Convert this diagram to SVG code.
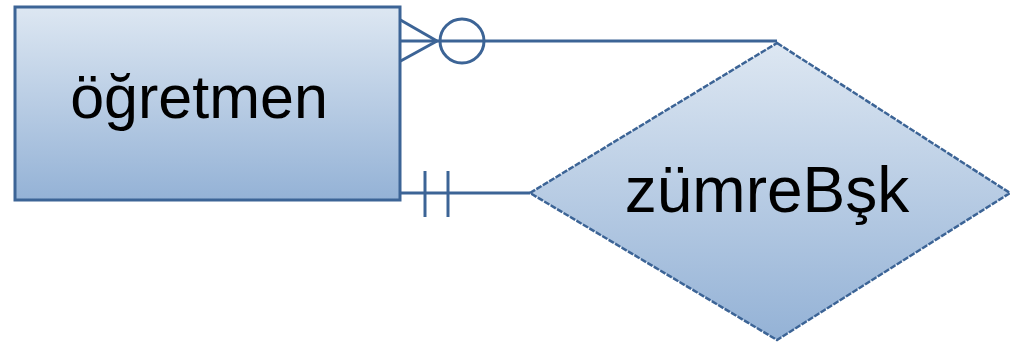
<svg xmlns="http://www.w3.org/2000/svg" width="1010" height="343" viewBox="0 0 1010 343">
<defs>
<linearGradient id="g" x1="0" y1="0" x2="0" y2="1">
<stop offset="0" stop-color="#dde7f2"/>
<stop offset="1" stop-color="#94b2d6"/>
</linearGradient>
<style>
.shape{fill:url(#g);stroke:#3c6496}
.lbl{font-family:"Liberation Sans",Arial,sans-serif;fill:#000;text-anchor:middle}
.ln{stroke:#3c6496;stroke-width:3;fill:none}
</style>
</defs>
<rect width="1010" height="343" fill="#fff"/>
<g id="connectors">
<line class="ln" x1="398" y1="41" x2="777" y2="41"/>
<line class="ln" x1="397" y1="18" x2="437" y2="41"/>
<line class="ln" x1="397" y1="63" x2="437" y2="41"/>
<circle class="ln" cx="462" cy="41" r="22"/>
<line class="ln" x1="401" y1="193" x2="530" y2="193"/>
<line class="ln" x1="425" y1="171" x2="425" y2="217"/>
<line class="ln" x1="448" y1="171" x2="448" y2="217"/>
</g>
<g id="ogretmen">
<rect class="shape" x="15" y="7" width="385" height="193" stroke-width="3"/>
<text class="lbl" x="199" y="118" font-size="61">öğretmen</text>
</g>
<g id="zumreBsk">
<polygon class="shape" points="777,43 1010,193 777,340 530,193" stroke-width="2.5" stroke-dasharray="6,1.5"/>
<text class="lbl" x="767" y="212" font-size="64">zümreBşk</text>
</g>
</svg>
